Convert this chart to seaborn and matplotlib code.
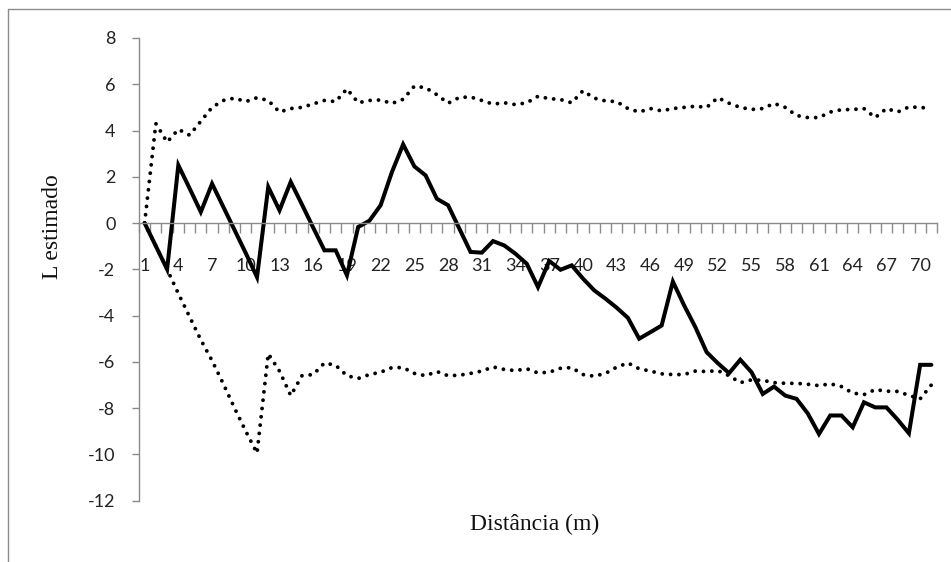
import numpy as np
import pandas as pd
import matplotlib
matplotlib.use("Agg")
import matplotlib.pyplot as plt
from matplotlib.lines import Line2D
import seaborn as sns

# ---- data ----
distancia = list(range(1, 72))
l_estimado = [0, -1.0, -2.0, 2.5, 1.5, 0.48, 1.7, 0.7, -0.3, -1.3,
              -2.34, 1.56, 0.55, 1.78, 0.8, -0.2, -1.18, -1.18, -2.26, -0.17,
              0.1, 0.77, 2.2, 3.4, 2.45, 2.06, 1.05, 0.77, -0.24, -1.25,
              -1.28, -0.78, -0.97, -1.33, -1.76, -2.77, -1.64, -2.02, -1.83, -2.4,
              -2.91, -3.27, -3.66, -4.1, -5.0, -4.72, -4.43, -2.53, -3.56, -4.5,
              -5.58, -6.06, -6.49, -5.91, -6.45, -7.39, -7.07, -7.46, -7.6, -8.23,
              -9.12, -8.32, -8.32, -8.83, -7.75, -7.97, -7.97, -8.5, -9.09, -6.13,
              -6.13]
limite_sup = [0, 4.3, 3.5, 4.05, 3.8, 4.4, 5.0, 5.3, 5.4, 5.25,
              5.42, 5.3, 4.8, 4.95, 5.0, 5.15, 5.3, 5.25, 5.8, 5.2,
              5.3, 5.32, 5.17, 5.35, 5.92, 5.85, 5.55, 5.18, 5.43, 5.45,
              5.3, 5.14, 5.2, 5.12, 5.2, 5.48, 5.38, 5.34, 5.2, 5.72,
              5.4, 5.28, 5.25, 4.95, 4.8, 4.95, 4.85, 4.95, 5.0, 5.05,
              5.0, 5.42, 5.18, 5.0, 4.91, 4.95, 5.17, 5.0, 4.65, 4.56,
              4.56, 4.8, 4.9, 4.91, 4.95, 4.56, 4.95, 4.8, 5.02, 5.0,
              4.95]
limite_inf = [0, -1.0, -2.0, -3.05, -4.05, -5.05, -5.95, -6.95, -8.0, -9.0,
              -9.95, -5.65, -6.4, -7.46, -6.6, -6.55, -6.05, -6.15, -6.6, -6.72,
              -6.55, -6.45, -6.25, -6.25, -6.5, -6.6, -6.42, -6.6, -6.58, -6.5,
              -6.4, -6.22, -6.33, -6.38, -6.3, -6.48, -6.45, -6.28, -6.25, -6.55,
              -6.62, -6.5, -6.23, -6.05, -6.3, -6.4, -6.52, -6.55, -6.55, -6.4,
              -6.42, -6.38, -6.6, -6.9, -6.78, -6.8, -6.9, -6.93, -6.93, -6.97,
              -7.03, -6.95, -7.07, -7.35, -7.42, -7.2, -7.27, -7.28, -7.45, -7.6,
              -7.0]
x_tick_labels = [str(v) for v in range(1, 71, 3)]
y_ticks = list(range(-12, 9, 2))

df = pd.DataFrame({"dist": distancia, "L": l_estimado,
                   "sup": limite_sup, "inf": limite_inf})

sns.set_style("white")
plt.rcParams["axes.unicode_minus"] = False
plt.rcParams["font.family"] = ["Lato", "DejaVu Sans"]

W, H = 951, 562
fig = plt.figure(figsize=(W / 100, H / 100), dpi=100)
x0, x1 = 139, 937
y_top, y_bot = 38, 500.6
ax = fig.add_axes([x0 / W, 1 - y_bot / H, (x1 - x0) / W, (y_bot - y_top) / H])

dot_style = dict(color="black", linewidth=2.8, linestyle=(0, (0.001, 2.15)),
                 dash_capstyle="round")
sns.lineplot(data=df, x="dist", y="sup", ax=ax, **dot_style)
sns.lineplot(data=df, x="dist", y="inf", ax=ax, **dot_style)
sns.lineplot(data=df, x="dist", y="L", ax=ax, color="black", linewidth=2.9,
             solid_joinstyle="miter")

ax.set_xlim(0.5, 71.5)
ax.set_ylim(-12, 8)

grey = "#8a8a8a"
for s in ["top", "right"]:
    ax.spines[s].set_visible(False)
ax.spines["left"].set_color(grey)
ax.spines["bottom"].set_color(grey)
ax.spines["left"].set_linewidth(1.0)
ax.spines["bottom"].set_linewidth(1.0)
ax.spines["bottom"].set_position(("data", 0))

tick_pos = [int(t) for t in x_tick_labels]
ax.set_xticks(tick_pos)
ax.set_xticklabels(x_tick_labels)
ax.set_xticks(np.arange(0.5, 72, 1), minor=True)
ax.tick_params(axis="x", which="both", bottom=True, top=False)
ax.tick_params(axis="x", which="major", length=0, pad=25, labelsize=13,
               labelcolor="#222222")
ax.tick_params(axis="x", which="minor", length=7, width=1, color=grey,
               direction="out")

ax.set_yticks(y_ticks)
ax.set_yticklabels([str(v) for v in y_ticks])
ax.tick_params(axis="y", which="major", left=True, right=False, length=5,
               width=1, color=grey, direction="out", pad=12, labelsize=13,
               labelcolor="#222222")

ax.set_xlabel("Distância (m)", fontsize=17, family=["Liberation Serif"],
              color="#111111")
ax.xaxis.set_label_coords(0.496, -0.051)
ax.xaxis.label.set_va("center")
ax.set_ylabel("L estimado", fontsize=17, family=["Liberation Serif"],
              color="#111111")
ax.yaxis.set_label_coords(-0.108, 0.592)
ax.yaxis.label.set_va("center")

# chart-area border
fig.add_artist(Line2D([8 / W, 8 / W], [1 - 9 / H, 0], transform=fig.transFigure,
                      color="#8c8c8c", linewidth=1))
fig.add_artist(Line2D([8 / W, 1], [1 - 9 / H, 1 - 9 / H], transform=fig.transFigure,
                      color="#8c8c8c", linewidth=1))

fig.savefig("out.png", dpi=100)
